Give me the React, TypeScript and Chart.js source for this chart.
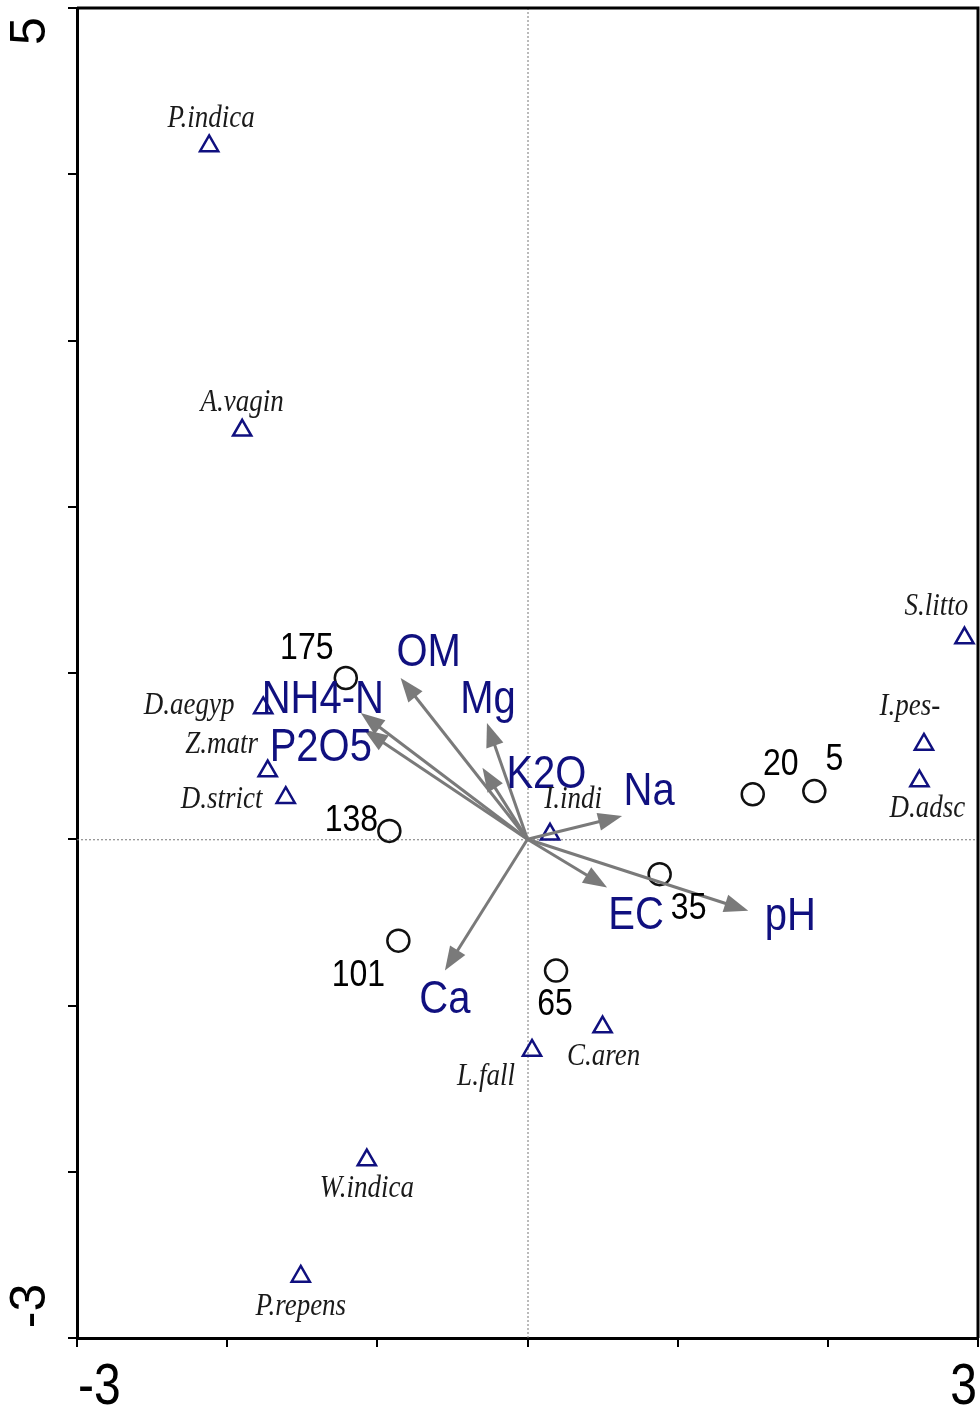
import React, { useEffect, useRef } from 'react';
import { Chart, registerables } from 'chart.js';

Chart.register(...registerables);

// ---- Data ----
const speciesNames = ['P.indica', 'A.vagin', 'D.aegyp', 'Z.matr', 'D.strict', 'S.litto', 'I.pes-', 'D.adsc', 'I.indi', 'C.aren', 'L.fall', 'W.indica', 'P.repens'];
const speciesX = [-2.12, -1.9, -1.76, -1.73, -1.61, 2.91, 2.64, 2.61, 0.15, 0.5, 0.03, -1.07, -1.51];
const speciesY = [4.17, 2.46, 0.79, 0.41, 0.25, 1.21, 0.57, 0.35, 0.03, -1.13, -1.27, -1.93, -2.63];

const siteNames = ['175', '138', '101', '65', '35', '20', '5'];
const siteX = [-1.21, -0.92, -0.86, 0.19, 0.88, 1.5, 1.91];
const siteY = [0.97, 0.05, -0.61, -0.79, -0.21, 0.27, 0.29];

const varNames = ['OM', 'Mg', 'NH4-N', 'P2O5', 'K2O', 'Na', 'EC', 'pH', 'Ca'];
const varX = [-0.845, -0.27, -1.11, -1.09, -0.3, 0.63, 0.53, 1.47, -0.55];
const varY = [0.97, 0.7, 0.76, 0.66, 0.43, 0.14, -0.29, -0.43, -0.79];

const xMin = -3;
const xMax = 3;
const yMin = -3;
const yMax = 5;
const xTickLabels = ['-3', '3'];
const yTickLabels = ['-3', '5'];

// ---- Label placement (style: pixel offsets from the mark) ----
const speciesLabelOffsets = [
  [2, -28], [0, -28], [-74, -2], [-46, -27], [-64, 2], [-28, -32], [-14, -38],
  [8, 27], [23, -35], [1, 29], [-46, 26], [0, 28], [0, 30],
];
const siteLabelOffsets = [[-39, -29], [-38, -10], [-40, 35], [-1, 34], [29, 35], [28, -30], [20, -31]];
const varLabelOffsets = [[28, -25], [1, -23], [-38, -13], [-43, 19], [64, 8], [27, -24], [29, 29], [42, 7], [0, 30]];

const NAVY = '#10107f';
const ARROW = '#7a7a7a';

function stretchedText(ctx: CanvasRenderingContext2D, text: string, x: number, y: number, font: string, color: string, align: CanvasTextAlign = 'center', stretch = 1.2) {
  ctx.save();
  ctx.translate(x, y);
  ctx.scale(1, stretch);
  ctx.font = font;
  ctx.fillStyle = color;
  ctx.textAlign = align;
  ctx.textBaseline = 'middle';
  ctx.fillText(text, 0, 0);
  ctx.restore();
}

const biplotPlugin = {
  id: 'biplot',
  beforeDatasetsDraw(chart: any) {
    const { ctx, chartArea, scales } = chart;
    const x0 = scales.x.getPixelForValue(0);
    const y0 = scales.y.getPixelForValue(0);
    ctx.save();
    ctx.strokeStyle = '#777';
    ctx.lineWidth = 1;
    ctx.setLineDash([2, 2]);
    ctx.beginPath();
    ctx.moveTo(x0 + 0.5, chartArea.top);
    ctx.lineTo(x0 + 0.5, chartArea.bottom);
    ctx.moveTo(chartArea.left, y0 + 0.5);
    ctx.lineTo(chartArea.right, y0 + 0.5);
    ctx.stroke();
    ctx.restore();
  },
  afterDatasetsDraw(chart: any) {
    const { ctx, chartArea, scales } = chart;
    const xs = scales.x;
    const ys = scales.y;
    const ox = xs.getPixelForValue(0);
    const oy = ys.getPixelForValue(0);

    // arrows
    ctx.save();
    ctx.strokeStyle = ARROW;
    ctx.fillStyle = ARROW;
    ctx.lineWidth = 3;
    const L = 24;
    const W = 9;
    varNames.forEach((_, i) => {
      const tx = xs.getPixelForValue(varX[i]);
      const ty = ys.getPixelForValue(varY[i]);
      const dx = tx - ox;
      const dy = ty - oy;
      const len = Math.hypot(dx, dy);
      const ux = dx / len;
      const uy = dy / len;
      const bx = tx - ux * L;
      const by = ty - uy * L;
      ctx.beginPath();
      ctx.moveTo(ox, oy);
      ctx.lineTo(bx + ux * 2, by + uy * 2);
      ctx.stroke();
      ctx.beginPath();
      ctx.moveTo(tx, ty);
      ctx.lineTo(bx - uy * W, by + ux * W);
      ctx.lineTo(bx + uy * W, by - ux * W);
      ctx.closePath();
      ctx.fill();
    });
    ctx.restore();

    // arrow labels
    varNames.forEach((name, i) => {
      const tx = xs.getPixelForValue(varX[i]);
      const ty = ys.getPixelForValue(varY[i]);
      const [dx, dy] = varLabelOffsets[i];
      stretchedText(ctx, name, tx + dx, ty + dy, '40px "Liberation Sans", Arial, sans-serif', NAVY, 'center', 1.15);
    });
    // species labels
    speciesNames.forEach((name, i) => {
      const px = xs.getPixelForValue(speciesX[i]);
      const py = ys.getPixelForValue(speciesY[i]);
      const [dx, dy] = speciesLabelOffsets[i];
      stretchedText(ctx, name, px + dx, py + dy, 'italic 27px "Liberation Serif", "Times New Roman", serif', '#1a1a1a');
    });
    // site labels
    siteNames.forEach((name, i) => {
      const px = xs.getPixelForValue(siteX[i]);
      const py = ys.getPixelForValue(siteY[i]);
      const [dx, dy] = siteLabelOffsets[i];
      stretchedText(ctx, name, px + dx, py + dy, '32px "Liberation Sans", Arial, sans-serif', '#000', 'center', 1.16);
    });

    // top and right frame
    ctx.save();
    ctx.strokeStyle = '#000';
    ctx.lineWidth = 3;
    ctx.beginPath();
    ctx.moveTo(chartArea.left, chartArea.top);
    ctx.lineTo(chartArea.right, chartArea.top);
    ctx.lineTo(chartArea.right, chartArea.bottom);
    ctx.stroke();
    ctx.restore();
  },
  afterDraw(chart: any) {
    const { ctx, chartArea, scales } = chart;
    const xs = scales.x;
    const ys = scales.y;
    const font = '48px "Liberation Sans", Arial, sans-serif';
    const ly = chartArea.bottom + 50;
    stretchedText(ctx, xTickLabels[0], xs.getPixelForValue(xMin) + 1, ly, font, '#000', 'left');
    stretchedText(ctx, xTickLabels[1], xs.getPixelForValue(xMax) - 1, ly, font, '#000', 'right');

    const drawRot = (text: string, x: number, y: number) => {
      ctx.save();
      ctx.translate(x, y);
      ctx.rotate(-Math.PI / 2);
      ctx.font = '50px "Liberation Sans", Arial, sans-serif';
      ctx.fillStyle = '#000';
      ctx.textAlign = 'center';
      ctx.textBaseline = 'middle';
      ctx.fillText(text, 0, 0);
      ctx.restore();
    };
    drawRot(yTickLabels[0], chartArea.left - 46, ys.getPixelForValue(yMin) - 32);
    drawRot(yTickLabels[1], chartArea.left - 46, ys.getPixelForValue(yMax) + 23);
  },
};

export default function App() {
  const canvasRef = useRef<HTMLCanvasElement | null>(null);

  useEffect(() => {
    if (!canvasRef.current) return;
    const chart = new Chart(canvasRef.current, {
      type: 'scatter',
      data: {
        datasets: [
          {
            label: 'Species',
            data: speciesX.map((x, i) => ({ x, y: speciesY[i] })),
            pointStyle: 'triangle',
            pointRadius: 10.5,
            borderColor: NAVY,
            borderWidth: 2.5,
            backgroundColor: 'rgba(0,0,0,0)',
            clip: false,
          },
          {
            label: 'Sites',
            data: siteX.map((x, i) => ({ x, y: siteY[i] })),
            pointStyle: 'circle',
            pointRadius: 11,
            borderColor: '#111',
            borderWidth: 2.5,
            backgroundColor: 'rgba(0,0,0,0)',
            clip: false,
          },
        ],
      },
      options: {
        responsive: false,
        animation: false,
        devicePixelRatio: 1,
        layout: { autoPadding: false, padding: { top: 8, right: 2, left: 0, bottom: 0 } },
        plugins: { legend: { display: false }, tooltip: { enabled: false } },
        scales: {
          x: {
            type: 'linear',
            min: xMin,
            max: xMax,
            ticks: { display: false, stepSize: 1 },
            grid: { drawOnChartArea: false, drawTicks: true, tickLength: 9, color: '#000', lineWidth: 2 },
            border: { display: true, color: '#000', width: 3 },
            afterFit: (scale: any) => { scale.height = 76; },
          },
          y: {
            type: 'linear',
            min: yMin,
            max: yMax,
            ticks: { display: false, stepSize: 1 },
            grid: { drawOnChartArea: false, drawTicks: true, tickLength: 9, color: '#000', lineWidth: 2 },
            border: { display: true, color: '#000', width: 3 },
            afterFit: (scale: any) => { scale.width = 77; },
          },
        },
      },
      plugins: [biplotPlugin],
    });
    return () => chart.destroy();
  }, []);

  return (
    <div style={{ position: 'absolute', left: 0, top: 0, width: 980, height: 1414, background: '#fff' }}>
      <canvas ref={canvasRef} width={980} height={1414} style={{ display: 'block' }} />
    </div>
  );
}
